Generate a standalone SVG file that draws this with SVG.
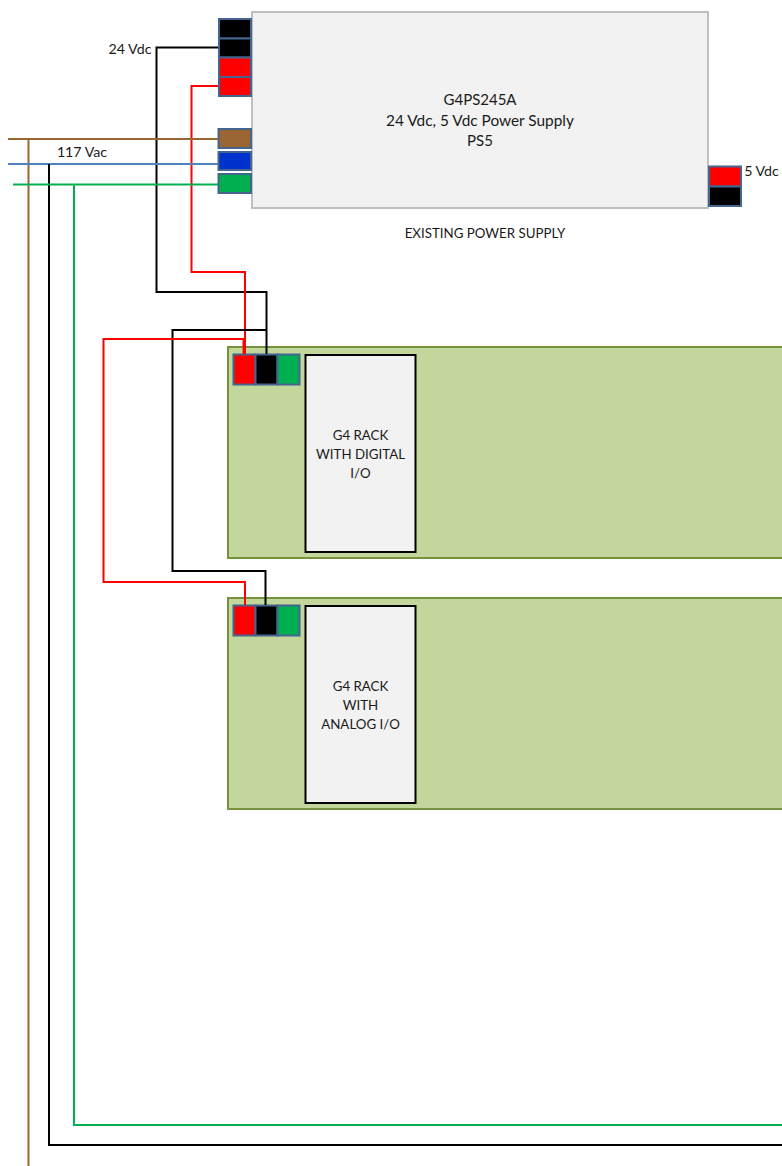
<svg xmlns="http://www.w3.org/2000/svg" width="782" height="1166" viewBox="0 0 782 1166">
<style>
text{font-family:Lato,"Liberation Sans",sans-serif;font-size:13.3px;fill:#1a1a1a;text-anchor:middle}
.p{font-size:15px}
.l{font-size:14.2px}
.t{stroke:#44658f;stroke-width:2}
.w{fill:none;stroke-width:2}
.rack{fill:#c3d69b;stroke:#76923c;stroke-width:2}
.inner{fill:#f2f2f2;stroke:#000;stroke-width:2}
.k{fill:#000}.r{fill:#f00}.g{fill:#00b050}
</style>
<rect width="782" height="1166" fill="#fff"/>
<g id="rack-digital"><rect class="rack" x="228" y="347" width="556" height="211"/><rect class="inner" x="305.500" y="355" width="110" height="197"/>
<text x="360.500" y="440">G4 RACK</text><text x="360.500" y="459">WITH DIGITAL</text><text x="360.500" y="478">I/O</text>
<rect class="t r" x="233.500" y="354.500" width="22" height="30"/><rect class="t k" x="255.500" y="354.500" width="22" height="30"/><rect class="t g" x="277.500" y="354.500" width="22" height="30"/></g>
<g id="rack-analog"><rect class="rack" x="228" y="598" width="556" height="211"/><rect class="inner" x="305.500" y="606" width="110" height="197"/>
<text x="360.500" y="691">G4 RACK</text><text x="360.500" y="710">WITH</text><text x="360.500" y="729">ANALOG I/O</text>
<rect class="t r" x="233.500" y="605.500" width="22" height="30"/><rect class="t k" x="255.500" y="605.500" width="22" height="30"/><rect class="t g" x="277.500" y="605.500" width="22" height="30"/></g>
<g id="power-supply"><rect x="252" y="12" width="456" height="196" fill="#f2f2f2" stroke="#bfbfbf" stroke-width="2"/>
<text class="p" x="480" y="105">G4PS245A</text><text class="p" x="480" y="125.500" style="font-size:15.400px">24 Vdc, 5 Vdc Power Supply</text><text class="p" x="480" y="146">PS5</text>
<rect class="t k" x="219" y="19" width="32" height="19.500"/><rect class="t k" x="219" y="38.500" width="32" height="19"/><rect class="t r" x="219" y="57.500" width="32" height="19.500"/><rect class="t r" x="219" y="77" width="32" height="19"/>
<rect class="t" x="218.500" y="129" width="32.500" height="19" fill="#996633"/><rect class="t" x="218.500" y="152" width="32.500" height="18" fill="#0033cc"/><rect class="t g" x="218.500" y="174" width="32.500" height="19"/>
<rect class="t r" x="709" y="166.500" width="32" height="20"/><rect class="t k" x="709" y="186.500" width="32" height="19.500"/></g>
<g id="connectors">
<path class="w" stroke="#000" d="M218 47.500H156.500V292H266.500V354"/>
<path class="w" stroke="#f00" d="M218 86H191.500V272H245V354"/>
<path class="w" stroke="#000" d="M266.500 330H172.500V571H265.500V605"/>
<path class="w" stroke="#f00" d="M243.500 354V339H103.500V582H245V605"/>
<path class="w" stroke="#996633" d="M8 139H218M28.500 139V1166"/>
<path class="w" stroke="#4f81bd" d="M8 164H218"/>
<path class="w" stroke="#000" d="M49 164V1145H782"/>
<path class="w" stroke="#00b050" d="M13 184.500H218M74 184.500V1125H782"/>
</g>
<g id="labels"><text class="l" x="130" y="54">24 Vdc</text><text class="l" x="82" y="157">117 Vac</text><text class="l" x="761.500" y="176">5 Vdc</text><text x="485" y="238">EXISTING POWER SUPPLY</text></g>
</svg>
